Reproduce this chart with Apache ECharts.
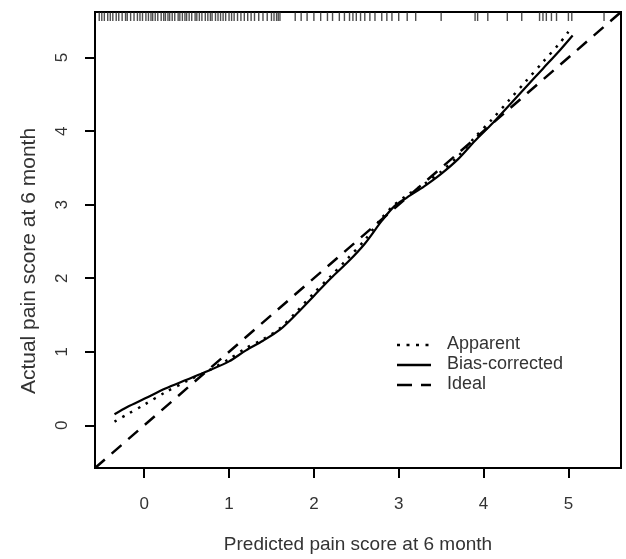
<!DOCTYPE html>
<html>
<head>
<meta charset="utf-8">
<script src="https://cdn.jsdelivr.net/npm/echarts@6/dist/echarts.min.js"></script>
<style>
  html, body { margin: 0; padding: 0; background: #fff; }
  #chart { width: 626px; height: 559px; }
</style>
</head>
<body>
<div id="chart"></div>
<script>
// calibration curves
var apparent = [[-0.35,0.05],[-0.2,0.15],[0,0.28],[0.25,0.45],[0.5,0.6],[0.75,0.74],[1.0,0.9],[1.2,1.05],[1.4,1.17],[1.6,1.32],[1.8,1.55],[2.0,1.8],[2.2,2.03],[2.4,2.27],[2.6,2.52],[2.8,2.82],[2.95,3.0],[3.1,3.13],[3.3,3.28],[3.5,3.45],[3.7,3.66],[3.9,3.92],[4.1,4.16],[4.3,4.42],[4.5,4.68],[4.7,4.94],[4.9,5.2],[5.0,5.35]];
var biasCorrected = [[-0.35,0.15],[-0.2,0.25],[0,0.36],[0.25,0.5],[0.5,0.62],[0.75,0.74],[1.0,0.87],[1.2,1.02],[1.4,1.15],[1.6,1.3],[1.8,1.52],[2.0,1.76],[2.2,2.0],[2.4,2.22],[2.6,2.47],[2.8,2.78],[2.95,2.98],[3.1,3.1],[3.3,3.25],[3.5,3.42],[3.7,3.62],[3.9,3.87],[4.1,4.1],[4.3,4.35],[4.5,4.6],[4.7,4.85],[4.9,5.1],[5.05,5.3]];
var ideal = [[-0.58,-0.58],[5.62,5.62]];
// rug of predicted values along the top
var rug = [-0.53,-0.5,-0.47,-0.43,-0.4,-0.37,-0.33,-0.3,-0.26,-0.22,-0.2,-0.16,-0.12,-0.08,-0.05,-0.02,0.02,0.05,0.08,0.1,0.13,0.16,0.2,0.23,0.25,0.28,0.3,0.33,0.36,0.4,0.42,0.45,0.48,0.5,0.53,0.56,0.6,0.62,0.65,0.68,0.72,0.75,0.78,0.8,0.84,0.87,0.9,0.93,0.96,1.0,1.03,1.06,1.1,1.14,1.18,1.22,1.26,1.3,1.35,1.4,1.45,1.5,1.53,1.56,1.58,1.6,1.78,1.85,1.92,2.0,2.08,2.16,2.22,2.3,2.36,2.42,2.46,2.5,2.55,2.6,2.66,2.72,2.8,2.86,2.92,3.0,3.1,3.2,3.5,3.9,3.93,4.05,4.28,4.45,4.66,4.7,4.74,4.8,4.86,5.0,5.04,5.42];
var ticks = [0, 1, 2, 3, 4, 5];
var axMin = -0.58, axMax = 5.62;

var chart = echarts.init(document.getElementById('chart'));
var txt = '#333';
var font = 'Liberation Sans, Arial, sans-serif';

chart.setOption({
  animation: false,
  grid: {
    left: 95, right: 5, top: 12, bottom: 83,
    show: true, borderColor: '#000', borderWidth: 2, backgroundColor: 'transparent'
  },
  xAxis: {
    type: 'value', min: axMin, max: axMax,
    name: 'Predicted pain score at 6 month', nameLocation: 'middle', nameGap: 67,
    nameTextStyle: { color: txt, fontSize: 19, fontFamily: font },
    axisLine: { show: false, onZero: false },
    splitLine: { show: false },
    axisTick: { show: true, length: 10, customValues: ticks, lineStyle: { color: '#000', width: 2 } },
    axisLabel: { customValues: ticks, color: txt, fontSize: 17, fontFamily: font, margin: 28 }
  },
  yAxis: {
    type: 'value', min: axMin, max: axMax,
    axisLine: { show: false, onZero: false },
    splitLine: { show: false },
    axisTick: { show: true, length: 10, customValues: ticks, lineStyle: { color: '#000', width: 2 } },
    axisLabel: { customValues: ticks, color: txt, fontSize: 17, fontFamily: font, margin: 24, rotate: 90 }
  },
  series: [
    {
      name: 'Ideal', type: 'line', data: ideal, showSymbol: false, symbol: 'none',
      lineStyle: { color: '#000', width: 2.5, type: [13, 9] }
    },
    {
      name: 'Apparent', type: 'line', data: apparent, showSymbol: false, symbol: 'none', smooth: 0.3,
      lineStyle: { color: '#000', width: 2.5, type: [2.5, 6.5] }
    },
    {
      name: 'Bias-corrected', type: 'line', data: biasCorrected, showSymbol: false, symbol: 'none', smooth: 0.3,
      lineStyle: { color: '#000', width: 2.2 }
    },
    {
      name: 'rug', type: 'scatter',
      data: rug.map(function (v) { return [v, axMax]; }),
      symbol: 'rect', symbolSize: [1.4, 9], symbolOffset: [0, 4.5],
      itemStyle: { color: '#222' }, silent: true
    }
  ],
  graphic: [
    // y axis title sits a little below the plot centre in the original
    { type: 'text', x: 29, y: 261, rotation: Math.PI / 2,
      style: { text: 'Actual pain score at 6 month', fill: txt, fontSize: 21, fontFamily: font,
               textAlign: 'center', textVerticalAlign: 'middle' } },
    { type: 'line', shape: { x1: 397, y1: 345, x2: 431, y2: 345 }, style: { stroke: '#000', lineWidth: 2.5, lineDash: [3, 6.5] } },
    { type: 'text', left: 447, top: 335, style: { text: 'Apparent', fill: txt, fontSize: 18, fontFamily: font } },
    { type: 'line', shape: { x1: 397, y1: 365, x2: 431, y2: 365 }, style: { stroke: '#000', lineWidth: 2.5 } },
    { type: 'text', left: 447, top: 355, style: { text: 'Bias-corrected', fill: txt, fontSize: 18, fontFamily: font } },
    { type: 'line', shape: { x1: 397, y1: 385, x2: 431, y2: 385 }, style: { stroke: '#000', lineWidth: 2.5, lineDash: [15, 9] } },
    { type: 'text', left: 447, top: 375, style: { text: 'Ideal', fill: txt, fontSize: 18, fontFamily: font } }
  ]
});
</script>
</body>
</html>
